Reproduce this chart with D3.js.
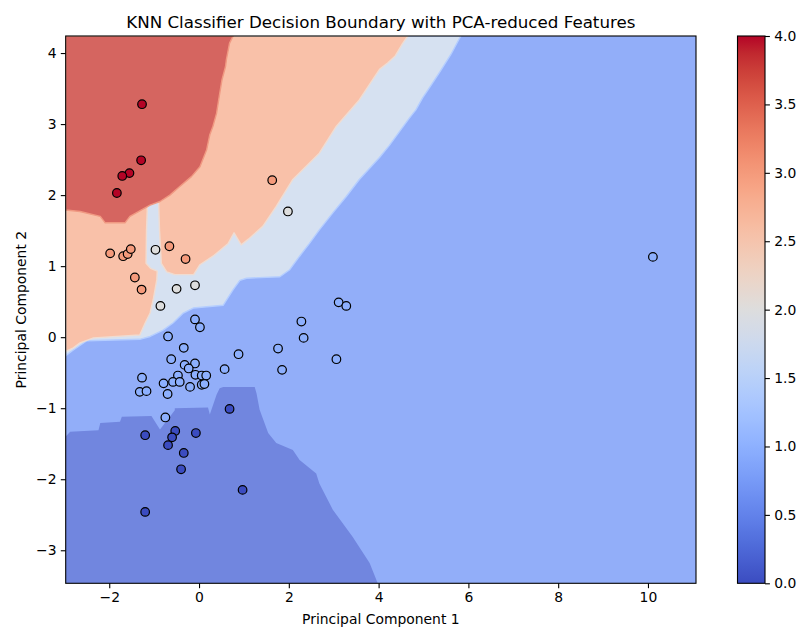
<!DOCTYPE html>
<html>
<head>
<meta charset="utf-8">
<script src="https://cdn.jsdelivr.net/npm/d3@7"></script>
<style>
  body { margin: 0; background: #fff; }
  text { font-family: "DejaVu Sans", sans-serif; fill: #000; }
</style>
</head>
<body>
<svg id="chart" width="797" height="627"></svg>
<script>
// PCA-projected samples (component 1, component 2) and their class labels
const pc1 = [
  -1.27, -1.29, -1.55, -1.71, -1.83,
  1.63, -1.98, -1.69, -1.59, -1.52, -0.66, -0.30, -1.43, -1.28,
  1.98, -0.97, -0.50, -0.09, -0.86,
  -0.09, 0.02, -0.69, -0.34, -0.62, -0.32, -0.09, -0.23, -0.47, -0.08, 0.06, 0.16,
  -1.27, -0.79, -0.58, -0.43, -0.20, 0.06, 0.12, -1.32, -1.17, -0.70, 0.57, 0.88,
  -0.75, 3.11, 3.28, 2.28, 2.33, 1.76, 1.85, 3.06, 10.11,
  0.68, -1.20, -0.53, -0.60, -0.69, -0.07, -0.34, -0.40, 0.97, -1.20
];
const pc2 = [
  3.28, 2.49, 2.31, 2.27, 2.03,
  2.21, 1.18, 1.14, 1.17, 1.24, 1.28, 1.10, 0.84, 0.67,
  1.77, 1.23, 0.68, 0.73, 0.44,
  0.25, 0.14, 0.01, -0.15, -0.31, -0.39, -0.37, -0.44, -0.54, -0.53, -0.54, -0.54,
  -0.57, -0.65, -0.63, -0.63, -0.70, -0.67, -0.66, -0.77, -0.76, -0.80, -0.45, -0.24,
  -1.13, 0.49, 0.44, 0.22, -0.01, -0.16, -0.46, -0.31, 1.13,
  -1.01, -1.38, -1.32, -1.41, -1.52, -1.35, -1.63, -1.86, -2.15, -2.46
];
const labels = [
  4, 4, 4, 4, 4,
  3, 3, 3, 3, 3, 3, 3, 3, 3,
  2, 2, 2, 2, 2,
  1, 1, 1, 1, 1, 1, 1, 1, 1, 1, 1, 1,
  1, 1, 1, 1, 1, 1, 1, 1, 1, 1, 1, 1,
  1, 1, 1, 1, 1, 1, 1, 1, 1,
  0, 0, 0, 0, 0, 0, 0, 0, 0, 0
];

const xTicks = [-2, 0, 2, 4, 6, 8, 10];
const yTicks = [-3, -2, -1, 0, 1, 2, 3, 4];
const cbarTicks = [0, 0.5, 1, 1.5, 2, 2.5, 3, 3.5, 4];

// Mesh extent of the decision grid
const xExtent = [-2.97, 11.07];
const yExtent = [-3.465, 4.24];

// Predicted-class regions of the KNN mesh, as outlines in PC space
const regionClass0 = [[-2.97,-1.40],[-2.87,-1.33],[-2.24,-1.31],[-2.20,-1.21],[-1.76,-1.19],[-1.72,-1.12],
  [-1.06,-1.11],[-0.87,-1.30],[-0.54,-1.03],[-0.54,-1.00],[0.20,-0.99],[0.24,-1.09],[0.39,-0.81],[0.46,-0.72],
  [0.54,-0.70],[1.24,-0.70],[1.28,-0.79],[1.35,-1.02],[1.54,-1.35],[1.72,-1.49],[2.09,-1.59],[2.24,-1.73],
  [2.61,-1.92],[2.68,-2.06],[2.98,-2.43],[3.42,-2.81],[3.80,-3.18],[3.98,-3.465],[-2.97,-3.465]];
const regionAtLeast2 = [[-2.97,4.24],[5.83,4.24],[5.61,3.98],[5.35,3.72],[5.13,3.51],[4.98,3.37],[4.83,3.20],
  [4.68,3.08],[4.46,2.89],[4.24,2.70],[4.02,2.53],[3.57,2.22],[3.28,1.98],[2.98,1.75],[2.68,1.51],[2.46,1.32],
  [2.24,1.14],[2.02,0.95],[1.80,0.85],[1.06,0.83],[0.91,0.80],[0.76,0.67],[0.54,0.45],[-0.13,0.41],[-0.35,0.34],
  [-0.58,0.20],[-0.80,0.10],[-1.09,0.01],[-1.32,-0.03],[-2.50,-0.05],[-2.80,-0.18],[-2.97,-0.26]];
const regionAtLeast3 = [[-2.97,4.24],[4.65,4.24],[4.54,4.14],[4.37,3.96],[4.20,3.86],[4.02,3.77],[3.57,3.34],
  [3.06,2.97],[2.68,2.59],[2.09,2.22],[1.72,1.84],[1.42,1.56],[1.10,1.38],[0.94,1.30],[0.78,1.47],[0.65,1.32],
  [0.31,1.14],[0.02,1.02],[-0.12,0.88],[-0.54,0.88],[-0.72,0.92],[-0.84,1.04],[-0.88,1.50],[-0.90,1.91],
  [-1.04,1.94],[-1.15,1.85],[-1.17,1.50],[-1.18,1.04],[-1.08,0.97],[-0.93,0.93],[-0.94,0.81],[-1.02,0.53],
  [-1.09,0.34],[-1.20,0.20],[-1.32,0.03],[-2.35,-0.01],[-2.65,-0.08],[-2.80,-0.15],[-2.97,-0.20]];
const regionClass4 = [[-2.97,4.24],[0.76,4.24],[0.68,4.14],[0.61,3.91],[0.59,3.81],[0.51,3.62],[0.45,3.39],
  [0.39,3.15],[0.31,2.97],[0.24,2.85],[0.17,2.64],[0.02,2.40],[-0.17,2.26],[-0.43,2.12],[-0.65,2.00],
  [-0.87,1.91],[-1.09,1.86],[-1.54,1.70],[-1.65,1.61],[-2.09,1.61],[-2.20,1.70],[-2.65,1.77],[-2.97,1.79]];

// coolwarm colormap (diverging blue -> red)
const coolwarmTable = [[59,76,192],[68,90,204],[77,104,215],[87,117,225],[98,130,234],[108,142,241],
  [119,154,247],[130,165,251],[141,176,254],[152,185,255],[163,194,255],[174,201,253],[184,208,249],
  [194,213,244],[204,217,238],[213,219,230],[221,221,221],[229,216,209],[236,211,197],[241,204,185],
  [245,196,173],[247,187,160],[247,177,148],[247,166,135],[244,154,123],[241,141,111],[236,127,99],
  [229,112,88],[222,96,77],[213,80,66],[203,62,56],[192,40,47],[180,4,38]];
const coolwarm = d3.scaleLinear()
  .domain(coolwarmTable.map((_, i) => i / (coolwarmTable.length - 1)))
  .range(coolwarmTable.map(c => d3.rgb(c[0], c[1], c[2])))
  .interpolate(d3.interpolateRgb)
  .clamp(true);

const colorNorm = d3.scaleLinear().domain([0, 4]).range([0, 1]);
// filled-contour band colour (mid-level of each 0.5 band), blended at 0.8 alpha on white
const faded = v => d3.interpolateRgb("#ffffff", coolwarm(colorNorm(v)))(0.8);
const regionFill = c => faded(c === 0 ? 0.25 : c - 0.25);
const edgeFill = c => faded(c - 0.75);

const svg = d3.select("#chart");
const margin = { left: 65.7, right: 696, top: 36, bottom: 583.3 };

const x = d3.scaleLinear().domain(xExtent).range([margin.left, margin.right]);
const y = d3.scaleLinear().domain(yExtent).range([margin.bottom, margin.top]);

svg.append("defs").append("clipPath").attr("id", "plotClip")
  .append("rect")
  .attr("x", margin.left).attr("y", margin.top)
  .attr("width", margin.right - margin.left).attr("height", margin.bottom - margin.top);

const plot = svg.append("g").attr("clip-path", "url(#plotClip)");

// base class (1) fills the mesh
plot.append("rect")
  .attr("x", x(xExtent[0])).attr("y", y(yExtent[1]))
  .attr("width", x(xExtent[1]) - x(xExtent[0]))
  .attr("height", y(yExtent[0]) - y(yExtent[1]))
  .attr("fill", regionFill(1));

const line = d3.line().x(d => x(d[0])).y(d => y(d[1])).curve(d3.curveLinearClosed);

plot.append("path").attr("d", line(regionClass0)).attr("fill", regionFill(0));
[[regionAtLeast2, 2], [regionAtLeast3, 3], [regionClass4, 4]].forEach(([poly, c]) => {
  plot.append("path")
    .attr("d", line(poly))
    .attr("fill", regionFill(c))
    .attr("stroke", edgeFill(c))
    .attr("stroke-width", 1.4)
    .attr("stroke-linejoin", "round");
});

// samples
const pts = pc1.map((v, i) => ({ x: v, y: pc2[i], c: labels[i] }));
plot.selectAll("circle.sample").data(pts).join("circle")
  .attr("class", "sample")
  .attr("cx", d => x(d.x)).attr("cy", d => y(d.y))
  .attr("r", 4.3)
  .attr("fill", d => coolwarm(colorNorm(d.c)))
  .attr("stroke", "#000")
  .attr("stroke-width", 1.2);

// axes
const fmtMinus = d => String(d).replace("-", "\u2212");
const xAxis = svg.append("g").attr("transform", `translate(0,${margin.bottom})`)
  .call(d3.axisBottom(x).tickValues(xTicks).tickFormat(fmtMinus).tickSize(4.9).tickPadding(4.3));
const yAxis = svg.append("g").attr("transform", `translate(${margin.left},0)`)
  .call(d3.axisLeft(y).tickValues(yTicks).tickFormat(fmtMinus).tickSize(4.9).tickPadding(4.3));
[xAxis, yAxis].forEach(g => {
  g.select(".domain").remove();
  g.selectAll(".tick line").attr("stroke", "#000").attr("stroke-width", 1.1);
  g.selectAll(".tick text").attr("font-size", 13.9).attr("font-family", "DejaVu Sans").attr("fill", "#000");
});

svg.append("rect")
  .attr("x", margin.left).attr("y", margin.top)
  .attr("width", margin.right - margin.left).attr("height", margin.bottom - margin.top)
  .attr("fill", "none").attr("stroke", "#000").attr("stroke-width", 1.1);

// colorbar
const cb = { x0: 737.5, x1: 765, top: margin.top, bottom: margin.bottom };
const grad = svg.select("defs").append("linearGradient")
  .attr("id", "cbGrad").attr("x1", 0).attr("y1", 1).attr("x2", 0).attr("y2", 0);
d3.range(0, 1.0001, 1 / 64).forEach(t => {
  grad.append("stop").attr("offset", t).attr("stop-color", coolwarm(t));
});
const cbScale = d3.scaleLinear().domain([0, 4]).range([cb.bottom, cb.top]);
svg.append("rect")
  .attr("x", cb.x0).attr("y", cb.top)
  .attr("width", cb.x1 - cb.x0).attr("height", cb.bottom - cb.top)
  .attr("fill", "url(#cbGrad)").attr("stroke", "#000").attr("stroke-width", 1.1);
const cbAxis = svg.append("g").attr("transform", `translate(${cb.x1},0)`)
  .call(d3.axisRight(cbScale).tickValues(cbarTicks).tickFormat(d3.format(".1f")).tickSize(4.9).tickPadding(4.3));
cbAxis.select(".domain").remove();
cbAxis.selectAll(".tick line").attr("stroke", "#000").attr("stroke-width", 1.1);
cbAxis.selectAll(".tick text").attr("font-size", 13.9).attr("font-family", "DejaVu Sans").attr("fill", "#000");

// titles
const cx = (margin.left + margin.right) / 2;
svg.append("text").attr("x", cx).attr("y", 27.5)
  .attr("text-anchor", "middle").attr("font-size", 16.7)
  .text("KNN Classifier Decision Boundary with PCA-reduced Features");
svg.append("text").attr("x", cx).attr("y", 623.5)
  .attr("text-anchor", "middle").attr("font-size", 13.9)
  .text("Principal Component 1");
svg.append("text")
  .attr("transform", `translate(26,${(margin.top + margin.bottom) / 2}) rotate(-90)`)
  .attr("text-anchor", "middle").attr("font-size", 13.9)
  .text("Principal Component 2");
</script>
</body>
</html>
